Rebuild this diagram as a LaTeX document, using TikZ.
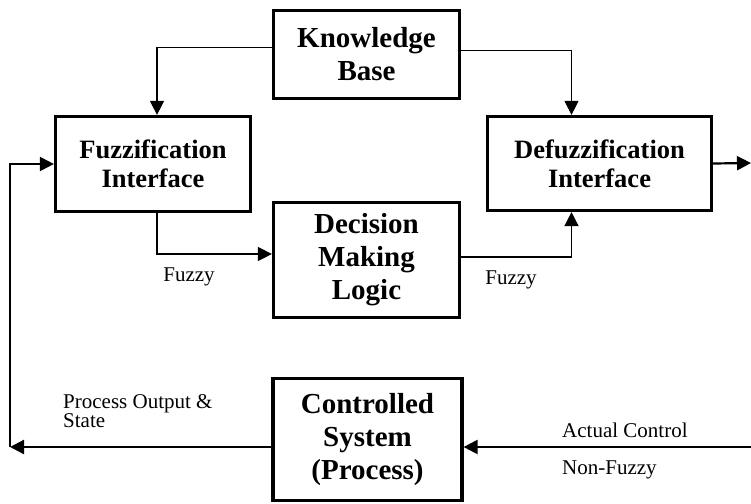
\documentclass[tikz,border=0pt]{standalone}
\usepackage{fontspec}
\setmainfont{Liberation Serif}
\usetikzlibrary{arrows.meta, calc}

\begin{document}
\begin{tikzpicture}[x=1pt, y=-1pt,
  block/.style={draw, line width=3.2pt, minimum width=186pt, minimum height=88pt,
                align=center, inner sep=0pt,
                font=\fontsize{29}{33}\selectfont\bfseries},
  iface/.style={block, font=\fontsize{26.5}{29}\selectfont\bfseries},
  lbl/.style={inner sep=0pt, align=left, font=\fontsize{21}{18}\selectfont},
  arrow/.style={-{Triangle[length=14pt, width=14pt]}, line width=2.2pt},
  thin arrow/.style={arrow, line width=1.1pt}]

  \useasboundingbox (0,0) rectangle (751,503);

  \node[block] (kb)  at (366.5,54.5) {Knowledge\\Base};
  \node[iface, minimum width=195pt, minimum height=95pt] (fz)  at (153,164)
       {Fuzzification\\Interface};
  \node[iface, minimum width=224pt, minimum height=94pt] (dfz) at (599.5,163.5)
       {Defuzzification\\Interface};
  \node[block, minimum height=115pt] (dml) at (366.5,260) {Decision\\Making\\Logic};
  \node[block, minimum width=189pt, minimum height=122pt] (cs) at (367.5,439.5)
       {Controlled\\System\\(Process)};

  \coordinate (out) at (751,163);
  \coordinate (in)  at (751,447);
  \coordinate (fb)  at (10,447);

  \draw[thin arrow] ([yshift=7pt]kb.west) -| ([xshift=4pt]fz.north);
  \draw[thin arrow] ([yshift=4pt]kb.east) -| ([xshift=-28pt]dfz.north);
  \draw[thin arrow] ([xshift=4pt]fz.south) |- ([yshift=6pt]dml.west);
  \draw[arrow, line width=1.6pt] ([yshift=3pt]dml.east) -| ([xshift=-28pt]dfz.south);
  \draw[arrow] (dfz.east) -- (out);
  \draw[arrow] (in) -- (in -| cs.east);
  \draw[arrow] (fb -| cs.west) -- (fb);
  \draw[arrow] (fb) |- (fz.west);

  \node[lbl] (fz1) at (189,277) {Fuzzy};
  \node[lbl] (fz2) at (511,280) {Fuzzy};
  \node[lbl, anchor=west] (pos) at (63,411) {Process Output \&\\State};
  \node[lbl, anchor=west] (act) at (562,430) {Actual Control};
  \node[lbl, anchor=west] (nfz) at (562,470) {Non-Fuzzy};
\end{tikzpicture}
\end{document}
